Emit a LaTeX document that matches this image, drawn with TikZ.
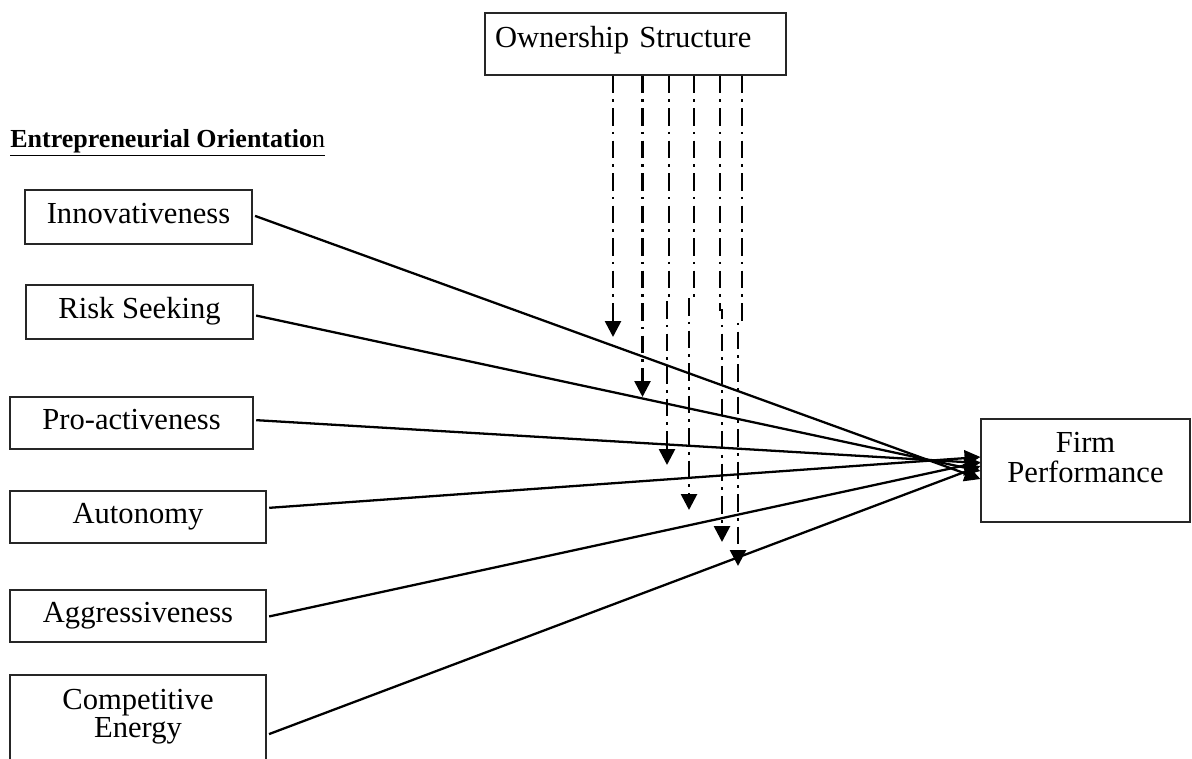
\documentclass[tikz,border=0pt]{standalone}
\usepackage{fontspec}
\setmainfont{Liberation Serif}
\usetikzlibrary{arrows.meta}
\begin{document}
\begin{tikzpicture}[x=0.02cm,y=-0.02cm,
  box/.style={draw=black!85, line width=0.7pt, rectangle, inner sep=0pt,
    font=\fontsize{17.4}{20}\selectfont, text height=0.42cm, text depth=0.16cm},
  link/.style={line width=1.3pt, shorten <=1.5pt, -{Triangle[length=9pt,width=9pt]}},
  moderator/.style={line width=1.5pt, dash pattern=on 10pt off 3.5pt on 1.5pt off 3.5pt,
    -{Triangle[length=9pt,width=9pt]}}]
\useasboundingbox (0,0) rectangle (1192,758);
\clip (0,0) rectangle (1192,758);

% boxes
\node[box, minimum width=6.02cm, minimum height=1.24cm, text width=5.62cm, align=left,
  inner xsep=0.2cm, text depth=0.30cm] (os) at (635.5,44) {Ownership Structure};

\node[anchor=base west, inner sep=0pt, font=\fontsize{14.8}{17}\selectfont] (eo) at (10,147)
  {\underline{\textbf{Entrepreneurial Orientatio}n}};

\node[box, minimum width=4.54cm, minimum height=1.08cm] (inn) at (138.5,217) {Innovativeness};
\node[box, minimum width=4.54cm, minimum height=1.08cm] (risk) at (139.5,312) {Risk Seeking};
\node[box, minimum width=4.86cm, minimum height=1.04cm] (pro) at (131.5,423) {Pro-activeness};
\node[box, minimum width=5.12cm, minimum height=1.04cm] (aut) at (138,517) {Autonomy};
\node[box, minimum width=5.12cm, minimum height=1.04cm] (agg) at (138,616) {Aggressiveness};
\node[box, minimum width=5.12cm, minimum height=2.4cm, text width=5.12cm, align=center,
  font=\fontsize{17.4}{16}\selectfont, text depth=1.46cm] (ce) at (138,735) {Competitive\\Energy};

\node[box, minimum width=4.18cm, minimum height=2.06cm, text width=4.18cm, align=center,
  font=\fontsize{17.4}{17.6}\selectfont, text depth=1.16cm] (fp) at (1085.5,470.5) {Firm\\Performance};

% connectors to firm performance
\draw[link] ([yshift=0.04cm]inn.east) -- ([yshift=-0.17cm]fp.west);
\draw[link] ([yshift=-0.06cm]risk.east) -- ([yshift=-0.01cm]fp.west);
\draw[link] ([yshift=0.06cm]pro.east) -- ([yshift=0.15cm]fp.west);
\draw[link] ([yshift=0.18cm]aut.east) -- ([yshift=0.27cm]fp.west);
\draw[link] ([yshift=-0.02cm]agg.east) -- ([yshift=0.17cm]fp.west);
\draw[link] (ce.east) -- ([yshift=0.09cm]fp.west);

% moderating dash-dot arrows
\coordinate (d1) at (613,337);
\coordinate (d2) at (642.5,397);
\coordinate (d3) at (667,465);  \coordinate (j3) at (669,297);
\coordinate (d4) at (689,510);  \coordinate (j4) at (694,297);
\coordinate (d5) at (722,542);  \coordinate (j5) at (720,310);
\coordinate (d6) at (738,566);  \coordinate (j6) at (742,322);

\draw[moderator] (os.south -| d1) -- (d1);
\draw[moderator] (os.south -| d2) -- (d2);
\draw[moderator] (os.south -| j3) -- (j3) -- (j3 -| d3) -- (d3);
\draw[moderator] (os.south -| j4) -- (j4) -- (j4 -| d4) -- (d4);
\draw[moderator] (os.south -| j5) -- (j5) -- (j5 -| d5) -- (d5);
\draw[moderator] (os.south -| j6) -- (j6) -- (j6 -| d6) -- (d6);
\end{tikzpicture}
\end{document}
